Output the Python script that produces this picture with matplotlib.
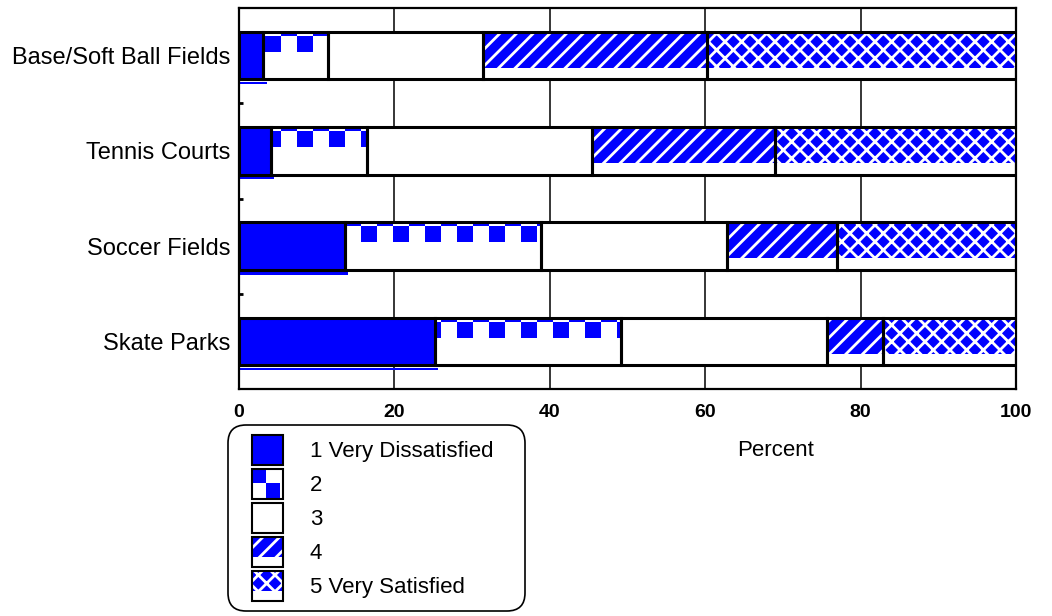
import numpy as np
import matplotlib
matplotlib.use('Agg')
import matplotlib.pyplot as plt
from matplotlib.patches import Patch, Rectangle
from matplotlib.legend_handler import HandlerBase

# survey data (percent of respondents)
categories = ['Base/Soft Ball Fields', 'Tennis Courts', 'Soccer Fields', 'Skate Parks']
levels = ['1 Very Dissatisfied', '2', '3', '4', '5 Very Satisfied']
very_dissatisfied = [3.1, 4.1, 13.6, 25.2]
rating_2 = [8.4, 12.4, 25.3, 24.0]
rating_3 = [19.9, 28.9, 23.9, 26.5]
rating_4 = [28.8, 23.6, 14.2, 7.2]
very_satisfied = [39.8, 31.0, 23.0, 17.1]
xticks = [0, 20, 40, 60, 80, 100]

BLUE = '#0000ff'
styles = ['solid', 'checker', 'plain', 'diag', 'cross']
hatches = {'diag': '//', 'cross': 'xx'}
series = [very_dissatisfied, rating_2, rating_3, rating_4, very_satisfied]

plt.rcParams['font.family'] = ['Liberation Sans', 'DejaVu Sans']
plt.rcParams['hatch.linewidth'] = 2.0

fs = 16
bh = 0.5          # bar height
pat_h = 0.378     # height of patterned band at top of bar
sq_w, sq_period, sq_phase = 2.06, 4.12, 3.35
thin_h, row_h = 0.042, 0.168

fig = plt.figure(figsize=(10.52, 6.16), dpi=100)
ax = fig.add_axes([0.2272, 0.3685, 0.7386, 0.6185])

pos = np.arange(len(categories))
data = np.array(series)
lefts = np.vstack([np.zeros(len(categories)), np.cumsum(data, axis=0)[:-1]])


def checker_row(left, right, phase, yc, h):
    start0 = phase + sq_period * np.floor((left - phase) / sq_period) - sq_period
    starts = np.arange(start0, right, sq_period)
    l = np.clip(starts, left, right)
    r = np.clip(starts + sq_w, left, right)
    keep = r > l
    ax.barh(np.full(keep.sum(), yc), r[keep] - l[keep], left=l[keep], height=h,
            color=BLUE, linewidth=0, zorder=3)


for k, (vals, style) in enumerate(zip(data, styles)):
    left = lefts[k]
    face = BLUE if style == 'solid' else 'white'
    ax.barh(pos, vals, left=left, height=bh, color=face, linewidth=0, zorder=2)
    top = pos - bh / 2
    if style in hatches:
        ax.barh(top + pat_h / 2, vals, left=left, height=pat_h, facecolor=BLUE,
                edgecolor='white', linewidth=0, hatch=hatches[style], zorder=3)
    if style == 'checker':
        for i in range(len(pos)):
            checker_row(left[i], left[i] + vals[i], sq_phase + sq_w, top[i] + thin_h / 2, thin_h)
            checker_row(left[i], left[i] + vals[i], sq_phase, top[i] + thin_h + row_h / 2, row_h)
    if style == 'solid':
        # thin blue shadow line under first segment
        ax.barh(pos + bh / 2 + 0.037, vals + 0.45, left=left, height=0.022,
                color=BLUE, linewidth=0, zorder=2, clip_on=False)
    ax.barh(pos, vals, left=left, height=bh, fill=False, edgecolor='black',
            linewidth=2.2, zorder=4)

ax.set_xlim(0, 100)
ax.set_ylim(3.5, -0.5)
ax.set_xticks(xticks)
ax.set_xticklabels([str(t) for t in xticks], fontsize=14, fontweight='bold')
ax.set_yticks(pos)
ax.set_yticklabels(categories, fontsize=17)
ax.set_yticks(pos[:-1] + 0.5, minor=True)
ax.tick_params(axis='x', length=0, pad=11)
ax.tick_params(axis='y', length=0, pad=6)
ax.tick_params(axis='y', which='minor', direction='in', length=3, width=2)
ax.grid(axis='x', color='black', linewidth=1.1)
ax.set_axisbelow(True)
for sp in ax.spines.values():
    sp.set_linewidth(1.6)

ax.set_xlabel('Percent', fontsize=fs)
ax.xaxis.set_label_coords(0.691, -0.134)


class PatternHandler(HandlerBase):
    def __init__(self, style):
        super().__init__()
        self.style = style

    def create_artists(self, legend, orig_handle, xdescent, ydescent,
                       width, height, fontsize, trans):
        off = 10.0
        x0, y0 = -xdescent + off, -ydescent
        w, h = width - off, height
        arts = [Rectangle((x0, y0), w, h,
                          facecolor=BLUE if self.style == 'solid' else 'white',
                          linewidth=0)]
        if self.style in hatches:
            arts.append(Rectangle((x0, y0 + h * 0.33), w, h * 0.67, facecolor=BLUE,
                                  edgecolor='white', linewidth=0,
                                  hatch=hatches[self.style]))
        if self.style == 'checker':
            arts.append(Rectangle((x0, y0 + h * 0.53), w * 0.46, h * 0.47,
                                  facecolor=BLUE, linewidth=0))
            arts.append(Rectangle((x0 + w * 0.46, y0 + h * 0.05), w * 0.44, h * 0.48,
                                  facecolor=BLUE, linewidth=0))
        arts.append(Rectangle((x0, y0), w, h, fill=False, edgecolor='black',
                              linewidth=1.5))
        for a in arts:
            a.set_transform(trans)
        return arts


handles = [Patch(label=lab) for lab in levels]
hmap = {h: PatternHandler(s) for h, s in zip(handles, styles)}
leg = fig.legend(handles=handles, labels=levels, handler_map=hmap,
                 loc='upper left', bbox_to_anchor=(228 / 1052, 0, 297 / 1052, 191 / 616),
                 bbox_transform=fig.transFigure, mode='expand', borderaxespad=0,
                 fontsize=fs, handlelength=2.02, handleheight=1.7,
                 labelspacing=0.18, handletextpad=1.21, borderpad=0.45,
                 fancybox=True, framealpha=1, edgecolor='black')
leg.get_frame().set_linewidth(1.2)
leg.get_frame().set_boxstyle('round,pad=0,rounding_size=0.8')

fig.savefig('out.png', dpi=100)
